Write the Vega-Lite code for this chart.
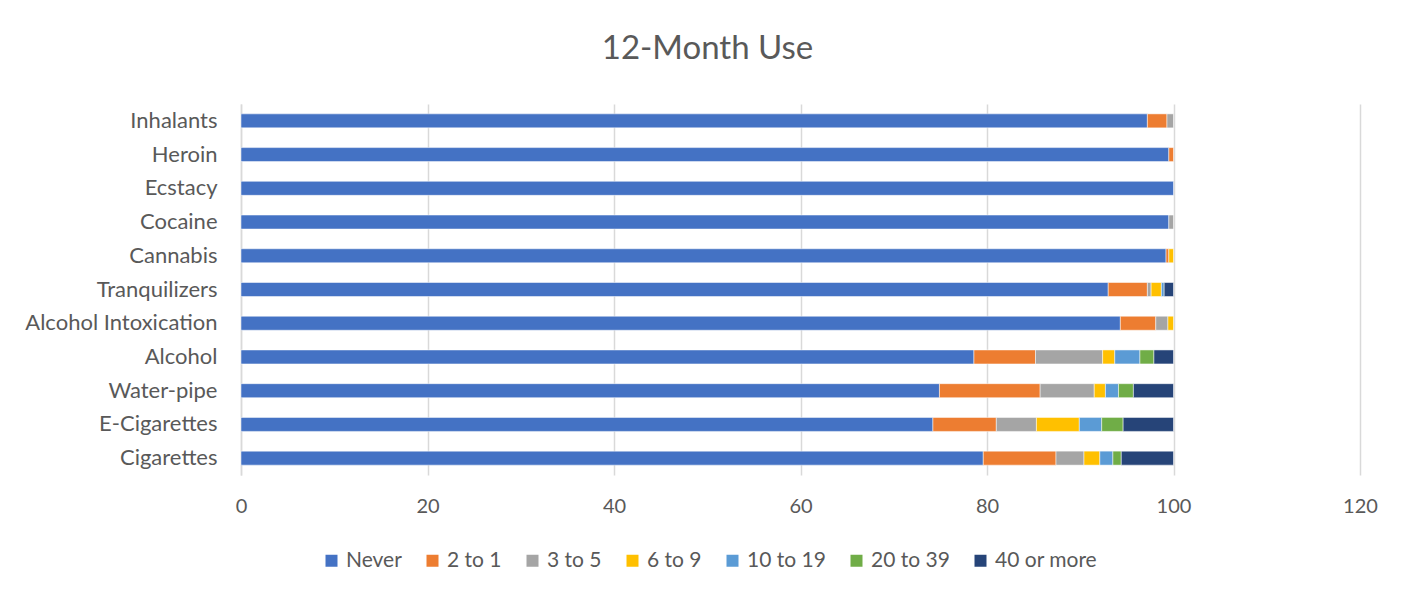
{
  "$schema": "https://vega.github.io/schema/vega-lite/v6.json",
  "width": 1119,
  "height": 371,
  "autosize": "none",
  "padding": {"left": 241, "top": 104, "right": 51, "bottom": 121},
  "background": "white",
  "title": {
    "text": "12-Month Use",
    "fontSize": 33,
    "font": "Lato",
    "fontWeight": "normal",
    "color": "#595959",
    "anchor": "middle",
    "frame": "group",
    "dx": -93,
    "offset": 38
  },
  "data": {
    "values": [
      {"drug": "Inhalants", "freq": "Never", "pct": 97.2},
      {"drug": "Inhalants", "freq": "2 to 1", "pct": 2.1},
      {"drug": "Inhalants", "freq": "3 to 5", "pct": 0.7},
      {"drug": "Heroin", "freq": "Never", "pct": 99.5},
      {"drug": "Heroin", "freq": "2 to 1", "pct": 0.5},
      {"drug": "Ecstacy", "freq": "Never", "pct": 100},
      {"drug": "Cocaine", "freq": "Never", "pct": 99.5},
      {"drug": "Cocaine", "freq": "3 to 5", "pct": 0.5},
      {"drug": "Cannabis", "freq": "Never", "pct": 99.2},
      {"drug": "Cannabis", "freq": "2 to 1", "pct": 0.3},
      {"drug": "Cannabis", "freq": "6 to 9", "pct": 0.5},
      {"drug": "Tranquilizers", "freq": "Never", "pct": 93.0},
      {"drug": "Tranquilizers", "freq": "2 to 1", "pct": 4.2},
      {"drug": "Tranquilizers", "freq": "3 to 5", "pct": 0.4},
      {"drug": "Tranquilizers", "freq": "6 to 9", "pct": 1.1},
      {"drug": "Tranquilizers", "freq": "10 to 19", "pct": 0.3},
      {"drug": "Tranquilizers", "freq": "40 or more", "pct": 1.0},
      {"drug": "Alcohol Intoxication", "freq": "Never", "pct": 94.3},
      {"drug": "Alcohol Intoxication", "freq": "2 to 1", "pct": 3.8},
      {"drug": "Alcohol Intoxication", "freq": "3 to 5", "pct": 1.3},
      {"drug": "Alcohol Intoxication", "freq": "6 to 9", "pct": 0.6},
      {"drug": "Alcohol", "freq": "Never", "pct": 78.6},
      {"drug": "Alcohol", "freq": "2 to 1", "pct": 6.6},
      {"drug": "Alcohol", "freq": "3 to 5", "pct": 7.2},
      {"drug": "Alcohol", "freq": "6 to 9", "pct": 1.3},
      {"drug": "Alcohol", "freq": "10 to 19", "pct": 2.7},
      {"drug": "Alcohol", "freq": "20 to 39", "pct": 1.5},
      {"drug": "Alcohol", "freq": "40 or more", "pct": 2.1},
      {"drug": "Water-pipe", "freq": "Never", "pct": 74.9},
      {"drug": "Water-pipe", "freq": "2 to 1", "pct": 10.8},
      {"drug": "Water-pipe", "freq": "3 to 5", "pct": 5.8},
      {"drug": "Water-pipe", "freq": "6 to 9", "pct": 1.2},
      {"drug": "Water-pipe", "freq": "10 to 19", "pct": 1.4},
      {"drug": "Water-pipe", "freq": "20 to 39", "pct": 1.6},
      {"drug": "Water-pipe", "freq": "40 or more", "pct": 4.3},
      {"drug": "E-Cigarettes", "freq": "Never", "pct": 74.2},
      {"drug": "E-Cigarettes", "freq": "2 to 1", "pct": 6.8},
      {"drug": "E-Cigarettes", "freq": "3 to 5", "pct": 4.3},
      {"drug": "E-Cigarettes", "freq": "6 to 9", "pct": 4.6},
      {"drug": "E-Cigarettes", "freq": "10 to 19", "pct": 2.4},
      {"drug": "E-Cigarettes", "freq": "20 to 39", "pct": 2.3},
      {"drug": "E-Cigarettes", "freq": "40 or more", "pct": 5.4},
      {"drug": "Cigarettes", "freq": "Never", "pct": 79.6},
      {"drug": "Cigarettes", "freq": "2 to 1", "pct": 7.8},
      {"drug": "Cigarettes", "freq": "3 to 5", "pct": 3.0},
      {"drug": "Cigarettes", "freq": "6 to 9", "pct": 1.7},
      {"drug": "Cigarettes", "freq": "10 to 19", "pct": 1.4},
      {"drug": "Cigarettes", "freq": "20 to 39", "pct": 0.9},
      {"drug": "Cigarettes", "freq": "40 or more", "pct": 5.6}
    ]
  },
  "transform": [
    {"calculate": "indexof(['Never', '2 to 1', '3 to 5', '6 to 9', '10 to 19', '20 to 39', '40 or more'], datum.freq)", "as": "rank"}
  ],
  "mark": {"type": "bar", "stroke": "white", "strokeWidth": 0.5},
  "encoding": {
    "y": {
      "field": "drug",
      "type": "nominal",
      "sort": ["Inhalants", "Heroin", "Ecstacy", "Cocaine", "Cannabis", "Tranquilizers", "Alcohol Intoxication", "Alcohol", "Water-pipe", "E-Cigarettes", "Cigarettes"],
      "scale": {"paddingInner": 0.585, "paddingOuter": 0.2925},
      "axis": {
        "title": null,
        "ticks": false,
        "domain": true,
        "domainColor": "#d9d9d9",
        "domainWidth": 1.5,
        "labelFont": "Lato",
        "labelFontSize": 22,
        "labelColor": "#595959",
        "labelPadding": 24,
        "labelLimit": 400
      }
    },
    "x": {
      "field": "pct",
      "type": "quantitative",
      "stack": "zero",
      "scale": {"domain": [0, 120], "nice": false},
      "axis": {
        "title": null,
        "values": [0, 20, 40, 60, 80, 100, 120],
        "domain": false,
        "ticks": false,
        "grid": true,
        "gridColor": "#d9d9d9",
        "gridWidth": 1.5,
        "labelFlush": false,
        "labelFont": "Lato",
        "labelFontSize": 20,
        "labelColor": "#595959",
        "labelPadding": 21
      }
    },
    "order": {"field": "rank", "type": "quantitative", "sort": "ascending"},
    "color": {
      "field": "freq",
      "type": "nominal",
      "sort": ["Never", "2 to 1", "3 to 5", "6 to 9", "10 to 19", "20 to 39", "40 or more"],
      "scale": {
        "domain": ["Never", "2 to 1", "3 to 5", "6 to 9", "10 to 19", "20 to 39", "40 or more"],
        "range": ["#4472C4", "#ED7D31", "#A5A5A5", "#FFC000", "#5B9BD5", "#70AD47", "#264478"]
      },
      "legend": {
        "title": null,
        "orient": "none",
        "direction": "horizontal",
        "legendX": 80,
        "legendY": 446,
        "symbolType": "square",
        "symbolSize": 144,
        "symbolStrokeWidth": 0,
        "labelFont": "Lato",
        "labelFontSize": 21,
        "labelColor": "#595959",
        "columnPadding": 20,
        "labelOffset": 4
      }
    }
  },
  "config": {
    "view": {"stroke": null}
  }
}
